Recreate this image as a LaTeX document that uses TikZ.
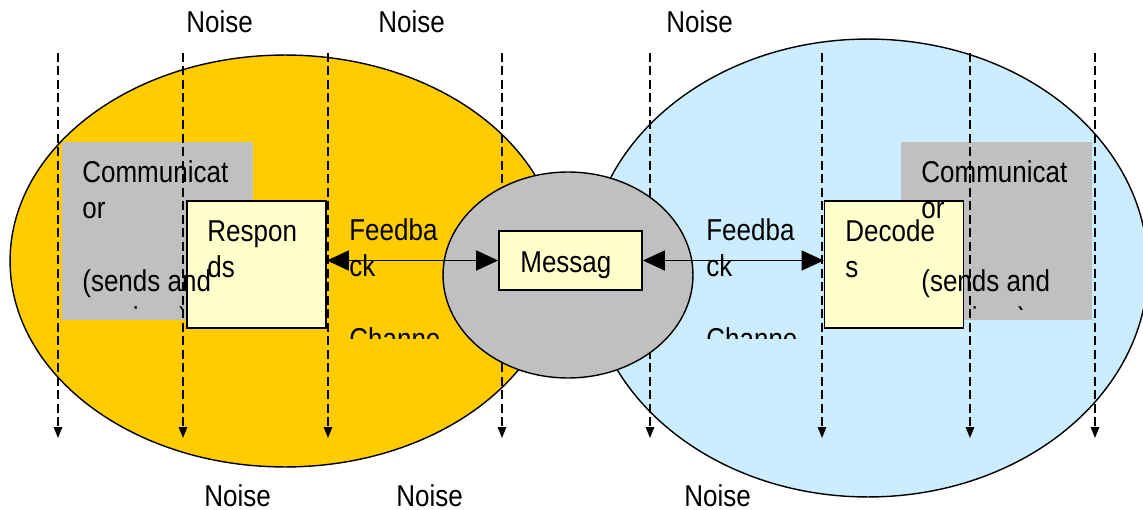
\documentclass[tikz,border=0pt]{standalone}
\usepackage{fontspec}
\setmainfont{Liberation Sans}
\usetikzlibrary{shapes.geometric}
\usetikzlibrary{positioning}
\usetikzlibrary{arrows.meta}
\usepackage{xcolor}
\definecolor{senderyellow}{HTML}{FFCC00}
\definecolor{receiverblue}{HTML}{CCECFF}
\definecolor{rolegray}{HTML}{C0C0C0}
\definecolor{paleyellow}{HTML}{FFFFCC}

\begin{document}
\begin{tikzpicture}[x=0.02cm, y=-0.02cm,
    txt/.style={font=\fontsize{14.8}{17.9}\selectfont, yscale=1.16, align=left, inner sep=0pt, anchor=base west},
    blob/.style={draw, ellipse, line width=0.8pt, inner sep=0pt},
    actbox/.style={draw, rectangle, fill=paleyellow, line width=1pt, minimum width=2.78cm, minimum height=2.54cm},
    rolebox/.style={rectangle, fill=rolegray, inner sep=0pt, minimum width=3.82cm, minimum height=3.56cm},
    noiseline/.style={dash pattern=on 0.18cm off 0.09cm, line width=0.75pt, -{Triangle[length=0.22cm,width=0.17cm]}},
    feedline/.style={line width=0.9pt, {Triangle[length=0.44cm,width=0.4cm]}-{Triangle[length=0.44cm,width=0.4cm]}}]
  \useasboundingbox (0,0) rectangle (1143,510);

  % the two communicators
  \node[blob, fill=senderyellow, minimum width=11cm, minimum height=8.24cm] (sender) at (285,261) {};
  \node[blob, fill=receiverblue, minimum width=11.2cm, minimum height=9.16cm] (receiver) at (868,268) {};

  \node[rolebox] (lrole) at (157.5,231) {};
  \node[rolebox] (rrole) at (996.5,231) {};

  \node[actbox] (resp) at (256.5,264.5) {};
  \node[actbox] (dec) at (894,264.5) {};

  % noise coming down through everything
  \foreach \x [count=\i] in {58,183,328,502,650,822,970,1095} {
    \coordinate (ntop\i) at (\x,53);
    \coordinate (nbot\i) at (\x,438);
    \draw[noiseline] (ntop\i) -- (nbot\i);
  }

  % channel with the message in the middle
  \node[blob, fill=rolegray, minimum width=5cm, minimum height=4.12cm] (channel) at (568,275) {};
  \node[draw, rectangle, fill=paleyellow, line width=1pt, minimum width=2.86cm, minimum height=1.18cm] (msg) at (570.5,260.5) {};

  \draw[feedline] (resp.east |- msg.west) -- (msg.west);
  \draw[feedline] (msg.east) -- (dec.west |- msg.east);

  % texts (base is the last line)
  \node[txt] (msgtxt) at (520,272) {Messag};
  \node[txt] (resptxt) at (207,277.5) {Respon\\ds};
  \node[txt] (dectxt) at (845,277.5) {Decode\\s};

  \begin{scope}
    \clip (340,200) rectangle (439,338);
    \node[txt] (lfeed) at (349,349.5) {Feedba\\ck\\\mbox{}\\Channel};
  \end{scope}
  \begin{scope}
    \clip (697,200) rectangle (797,338);
    \node[txt] (rfeed) at (706,349.5) {Feedba\\ck\\\mbox{}\\Channel};
  \end{scope}

  \begin{scope}
    \clip (62,142) rectangle (253,309);
    \node[txt] (lroletxt) at (82,328) {Communicat\\or\\\mbox{}\\(sends and\\receives)};
  \end{scope}
  \begin{scope}
    \clip (901,142) rectangle (1092,309);
    \node[txt] (rroletxt) at (921,328) {Communicat\\or\\\mbox{}\\(sends and\\receives)};
  \end{scope}

  \foreach \x [count=\i] in {186,378,666}
    \node[txt] (noiseup\i) at (\x,33) {Noise};
  \foreach \x [count=\i] in {204,396,684}
    \node[txt] (noisedown\i) at (\x,506) {Noise};
\end{tikzpicture}
\end{document}
